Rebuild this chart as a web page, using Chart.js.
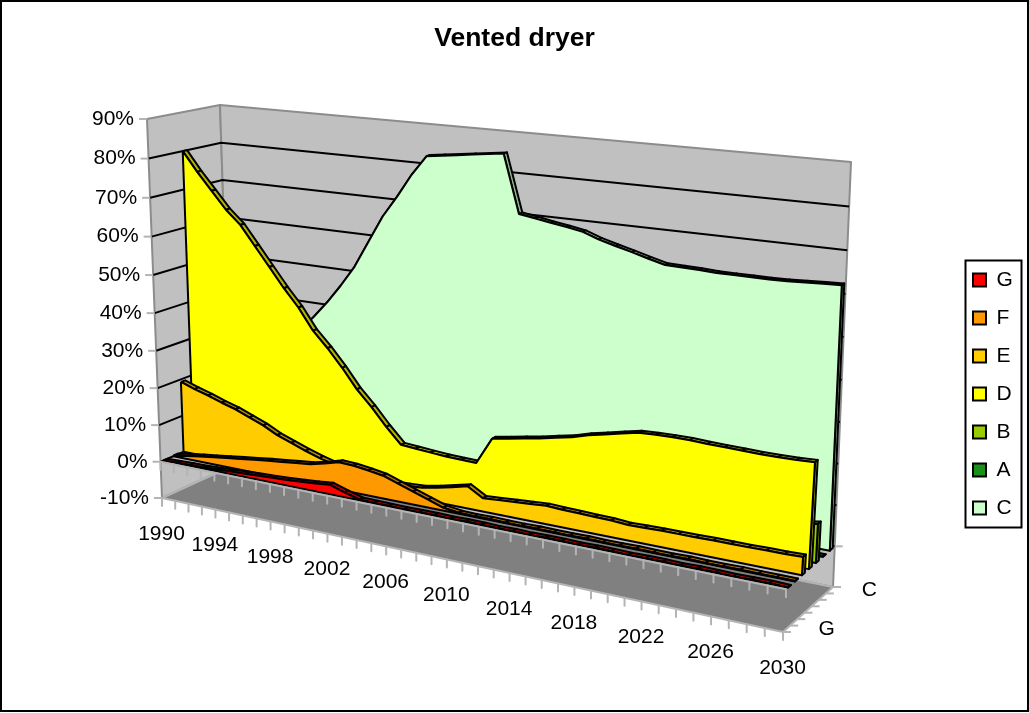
<!DOCTYPE html>
<html>
<head>
<meta charset="utf-8">
<title>Vented dryer</title>
<script src="https://cdn.jsdelivr.net/npm/chart.js@4"></script>
<style>
  body { margin: 0; background: #fff; }
  canvas { display: block; }
</style>
</head>
<body>
<canvas id="chart" width="1029" height="713"></canvas>
<script>
// === Data ===
const years = [1990,1991,1992,1993,1994,1995,1996,1997,1998,1999,2000,2001,2002,2003,2004,2005,2006,2007,2008,2009,2010,2011,2012,2013,2014,2015,2016,2017,2018,2019,2020,2021,2022,2023,2024,2025,2026,2027,2028,2029,2030];
const yearLabels = ["1990","1994","1998","2002","2006","2010","2014","2018","2022","2026","2030"];
const valueTicks = [-10,0,10,20,30,40,50,60,70,80,90];
const seriesNames = ["G","F","E","D","B","A","C"];
const depthLabels = ["G","C"];

const valuesG = [0,0.1,0.2,0.3,0.5,0.7,0.9,1.1,1.3,1.5,1.8,2.1,2.5,1.3,0.2,0.1,0.1,0,0.1,0.1,0,0.1,0.1,0,0.1,0,0.1,0.1,0,0.1,0.1,0,0.1,0.1,0,0.1,0.1,0,0.1,0.1,0];
const valuesF = [0.2,0.8,1.4,1.9,2.4,2.9,3.4,3.9,4.3,4.8,5.2,6.1,7.2,7,6.5,5.9,4.6,3.3,2,0.7,0.2,0.1,0.2,0.1,0.1,0.2,0.1,0.1,0.2,0.1,0.1,0.2,0.1,0.1,0.2,0.1,0.1,0.2,0.1,0.1,0.1];
const valuesE = [19.3,18,16.9,15.6,14.5,13,11.5,9.6,8.2,6.8,5.6,4.6,3.8,3,2.7,2.7,2.8,3,3.8,4.7,5.7,3.4,3.7,4,4.3,4.6,4.4,4.3,4.2,4.1,3.8,3.9,4,4,4,4.1,4.1,4.1,4.2,4.2,4.3];
const valuesD = [80,75,70.5,66,62.5,57.5,52.5,47.5,43,37.5,33.5,29,24,20,15.5,11.5,11.2,10.9,10.6,10.5,10.4,17.3,18,18.8,19.5,20.4,21.2,22.4,23.3,24.2,25.1,25.3,25.4,25.4,25.2,25.1,25,24.9,24.9,25,25.2];
const valuesB = [0,0,0,0,0,0,0,0,0,0,0,0,0,0,0,0,0,0,0,0,0,0,0,0.5,1,1.4,1.9,2.4,2.9,3.4,4,4.4,4.9,5.4,5.9,6.4,7,7.5,8,8.6,9.3];
const valuesA = [0,0,0,0,0,0,0,0,0,0,0,0,0,0,0,0,0,0,0,0,0,0,0,0,0,0,0,0,0,0,0,0,0,0,0,0,0,0,0,0,0];
const valuesC = [5,9,14,19,24,28,33,37,41.5,46.5,52,59,66,71.5,77.5,82.5,83,83.5,84,84.5,85,70.6,70,69.3,68.7,68,66.6,65.5,64.5,63.4,62.4,62.3,62.2,62,62,62,62,62.1,62.3,62.5,62.7];
const seriesValues = [valuesG, valuesF, valuesE, valuesD, valuesB, valuesA, valuesC];

// === Styles ===
const faceColors = ["#ff0000","#ff9900","#ffcc00","#ffff00","#99cc00","#1a8f1a","#ccffcc"];
const topColors = ["#b30000","#b36b00","#b38f00","#b3b300","#6b8f00","#106010","#8fb38f"];
const wallGrey = "#c0c0c0";
const floorGrey = "#808080";
const edgeGrey = "#8c8c8c";
const tickGrey = "#b4b4b4";

// === Perspective box: corners of the plot in canvas pixels ===
const frontBottomLeft = [162, 498], frontTopLeft = [147, 119];
const backBottomLeft = [232, 466], backTopLeft = [220, 105];
const frontBottomRight = [783, 632], frontTopRight = [814, 186];
const backBottomRight = [833, 587], backTopRight = [851, 162];
const bendYears = 1.18, bendValues = 1.05;
const halfDepth = 0.03;

function bend(p, k) {
  return p / (p + (1 - p) * k);
}

function mix(a, b, p) {
  return [a[0] + (b[0] - a[0]) * p, a[1] + (b[1] - a[1]) * p];
}

// index into years, depth 0..1 (front to back), value in percent -> canvas pixel
function project(index, depth, value) {
  const u = bend(index / (years.length - 1), bendYears);
  const t = bend((value + 10) / 100, bendValues);
  const bottom = mix(mix(frontBottomLeft, frontBottomRight, u), mix(backBottomLeft, backBottomRight, u), depth);
  const top = mix(mix(frontTopLeft, frontTopRight, u), mix(backTopLeft, backTopRight, u), depth);
  const p = mix(bottom, top, t);
  return { x: p[0], y: p[1] };
}

// === Datasets, painted back to front ===
const painted = [];

function addShape(points, fillColor, lineColor, lineWidth) {
  painted.push({
    data: points.concat([points[0]]),
    showLine: true,
    fill: "shape",
    backgroundColor: fillColor,
    borderColor: lineColor,
    borderWidth: lineWidth,
    borderJoinStyle: "round",
    pointRadius: 0
  });
}

function addLine(points, lineColor, lineWidth) {
  painted.push({
    data: points,
    showLine: true,
    fill: false,
    borderColor: lineColor,
    borderWidth: lineWidth,
    borderJoinStyle: "round",
    pointRadius: 0
  });
}

const last = years.length - 1;

// walls and floor
addShape([project(0, 0, -10), project(0, 0, 90), project(0, 1, 90), project(0, 1, -10)], wallGrey, edgeGrey, 2);
addShape([project(0, 1, -10), project(0, 1, 90), project(last, 1, 90), project(last, 1, -10)], wallGrey, edgeGrey, 2);
addShape([project(0, 0, -10), project(0, 1, -10), project(last, 1, -10), project(last, 0, -10)], floorGrey, tickGrey, 2);

// gridlines run along the side wall and on along the back wall
valueTicks.forEach(v => {
  if (v === -10 || v === 90) return;
  addLine([project(0, 0, v), project(0, 1, v), project(last, 1, v)], "#000", 2);
});

// one slab per series, back one first
for (let s = seriesNames.length - 1; s >= 0; s--) {
  const values = seriesValues[s];
  const front = (s + 0.5) / seriesNames.length - halfDepth;
  const back = (s + 0.5) / seriesNames.length + halfDepth;
  for (let i = 0; i < last; i++) {
    addShape([project(i, front, values[i]), project(i, back, values[i]), project(i + 1, back, values[i + 1]), project(i + 1, front, values[i + 1])], topColors[s], "#000", 2);
  }
  addShape([project(last, front, values[last]), project(last, back, values[last]), project(last, back, 0), project(last, front, 0)], topColors[s], "#000", 2);
  const face = values.map((v, i) => project(i, front, v));
  face.push(project(last, front, 0), project(0, front, 0));
  addShape(face, faceColors[s], "#000", 2);
}

// axes and tick marks sit in front of the slabs
addLine([project(0, 0, 0), project(last, 0, 0)], tickGrey, 2);
years.forEach((y, i) => {
  [0, -10].forEach(level => {
    const p = project(i, 0, level);
    addLine([p, { x: p.x, y: p.y + 8 }], tickGrey, 2);
  });
});
seriesNames.concat([""]).forEach((n, k) => {
  const p = project(last, k / seriesNames.length, -10);
  addLine([p, { x: p.x + 8, y: p.y }], tickGrey, 2);
});
valueTicks.forEach(v => {
  const p = project(0, 0, v);
  addLine([{ x: p.x - 8, y: p.y }, p], tickGrey, 2);
});
const backZero = project(last, 1, 0);
addLine([backZero, { x: backZero.x + 8, y: backZero.y }], tickGrey, 2);

// Chart.js paints the first dataset last
painted.reverse();

// === Frame and axis text ===
const frameAndText = {
  id: "frameAndText",
  beforeDraw(chart) {
    const ctx = chart.ctx;
    ctx.save();
    ctx.fillStyle = "#fff";
    ctx.fillRect(0, 0, chart.width, chart.height);
    ctx.restore();
  },
  afterLayout(chart) {
    // legend goes in its own box at the right, without shrinking the plot
    const legend = chart.legend;
    legend.left = 956;
    legend.right = 1029;
    legend.top = 252.5;
    legend.bottom = 560;
  },
  afterDraw(chart) {
    const ctx = chart.ctx;
    ctx.save();
    ctx.strokeStyle = "#000";
    ctx.lineWidth = 2;
    ctx.strokeRect(1, 1, 1027, 710);
    ctx.strokeRect(965.5, 260.5, 56, 267);

    ctx.fillStyle = "#000";
    ctx.font = "21px 'Liberation Sans'";
    ctx.textBaseline = "middle";

    ctx.textAlign = "right";
    valueTicks.forEach(v => {
      const p = project(0, 0, v);
      ctx.fillText(v + "%", p.x - 13, p.y);
    });

    ctx.textAlign = "center";
    yearLabels.forEach(label => {
      const p = project(years.indexOf(Number(label)), 0, -10);
      ctx.fillText(label, p.x - 0.5, p.y + 36);
    });

    depthLabels.forEach(label => {
      const p = project(last, (seriesNames.indexOf(label) + 0.5) / seriesNames.length, -10);
      ctx.fillText(label, p.x + 40, p.y);
    });
    ctx.restore();
  }
};

new Chart(document.getElementById("chart").getContext("2d"), {
  type: "scatter",
  data: { datasets: painted },
  plugins: [frameAndText],
  options: {
    responsive: false,
    animation: false,
    events: [],
    layout: { padding: 0 },
    scales: {
      // scale units are canvas pixels, the title band takes the top 76
      x: { type: "linear", display: false, min: 0, max: 1029 },
      y: { type: "linear", display: false, min: 76, max: 713, reverse: true }
    },
    plugins: {
      tooltip: { enabled: false },
      title: {
        display: true,
        text: "Vented dryer",
        color: "#000",
        font: { family: "'Liberation Sans'", size: 26.5, weight: "bold", lineHeight: 1 },
        padding: { top: 25, bottom: 24.5 }
      },
      legend: {
        display: true,
        position: "chartArea",
        align: "start",
        labels: {
          boxWidth: 13,
          boxHeight: 13,
          padding: 17,
          color: "#000",
          font: { family: "'Liberation Sans'", size: 21 },
          generateLabels: () => seriesNames.map((name, i) => ({
            text: name,
            fillStyle: faceColors[i],
            strokeStyle: "#000",
            lineWidth: 2,
            fontColor: "#000",
            hidden: false
          }))
        }
      }
    }
  }
});
</script>
</body>
</html>
